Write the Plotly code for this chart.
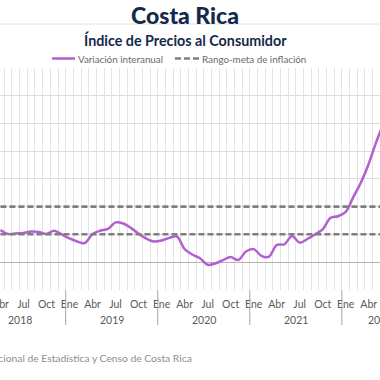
import plotly.graph_objects as go

# ---------------- data ----------------
years = [2018, 2019, 2020, 2021, 2022]
month_names = ["Ene", "Feb", "Mar", "Abr", "May", "Jun",
               "Jul", "Ago", "Sep", "Oct", "Nov", "Dic"]
label_months = ["Ene", "Abr", "Jul", "Oct"]
first_month = 3  # Abr 2018 (months counted from Ene 2018)
inflation = [
    2.31, 2.02, 2.06, 2.10, 2.20, 2.17, 2.02, 2.26, 1.99,                 # Abr-Dic 2018
    1.70, 1.48, 1.37, 2.02, 2.26, 2.39, 2.86, 2.78, 2.46, 2.05, 1.70, 1.48,  # 2019
    1.55, 1.74, 1.84, 0.94, 0.54, 0.27, -0.20, -0.11, 0.14, 0.36, 0.14, 0.76,  # 2020
    0.93, 0.45, 0.38, 1.23, 1.28, 1.88, 1.40, 1.66, 1.99, 2.35, 3.18, 3.30,  # 2021
    3.62, 4.70, 5.76, 7.09, 8.69, 10.10,                                  # Ene-Jun 2022
]
target_low = 2
target_high = 4
series_names = ["Variación interanual", "Rango-meta de inflación"]

# month index positions (category centres)
months = list(range(first_month, first_month + len(inflation)))
all_months = list(range(0, 12 * len(years)))
all_labels = [month_names[m % 12] for m in all_months]
tick_idx = [m for m in all_months if all_labels[m] in label_months]
tick_txt = [all_labels[m] for m in tick_idx]

# ---------------- layout helpers ----------------
W, H = 380, 380
PT, PB = 68, 290          # plot top / bottom in pixels
XR = [2.94, 52.47]        # visible month window
def py(ypx):
    return (PB - ypx) / (PB - PT)
def px(xpx):
    return xpx / W
def month_to_paper(m):
    return (m - XR[0]) / (XR[1] - XR[0])

NAVY = "#15294b"
PURPLE = "#b25fd2"
DASH = "#7f7f7f"
FONT = "Lato"
DASHSTYLE = "6px,3px"

fig = go.Figure()
fig.add_trace(go.Scatter(
    x=months, y=inflation, mode="lines", name=series_names[0],
    line=dict(color=PURPLE, width=2.5, shape="spline", smoothing=0.9),
))
for v in (target_high, target_low):
    fig.add_trace(go.Scatter(
        x=months, y=[v] * len(months), mode="lines", name=series_names[1],
        line=dict(color=DASH, width=2.6, dash=DASHSTYLE),
    ))

shapes = [dict(type="line", xref="paper", yref="paper", x0=0, x1=1,
               y0=py(24), y1=py(24), line=dict(color="#e2e2e2", width=1))]
annotations = [
    dict(text="Índice de Precios al Consumidor", xref="paper", yref="paper",
         x=px(185), y=py(39.5), xanchor="center", yanchor="middle", showarrow=False,
         font=dict(family=FONT, size=14.3, color=NAVY, weight="bold")),
    dict(text="Fuente: Instituto Nacional de Estadística y Censo de Costa Rica",
         xref="paper", yref="paper", x=px(194), y=py(358), xanchor="right",
         yanchor="middle", showarrow=False,
         font=dict(family=FONT, size=10.3, color="#8e8e8e")),
]

# legend (drawn as layout items)
legend_items = [(52, 75, PURPLE, "solid"), (175, 199, DASH, DASHSTYLE)]
for (x0, x1, col, dsh), name in zip(legend_items, series_names):
    shapes.append(dict(type="line", xref="paper", yref="paper",
                       x0=px(x0), x1=px(x1), y0=py(58.5), y1=py(58.5),
                       line=dict(color=col, width=2.5, dash=dsh)))
    annotations.append(dict(text=name, xref="paper", yref="paper",
                            x=px(x1 + 1), y=py(58.5), xanchor="left", yanchor="middle",
                            showarrow=False,
                            font=dict(family=FONT, size=9.8, color="#6a6a6a")))

for k, yr in enumerate(years):
    # full years centred on their 12 months; the last (partial) year on Ene-Oct
    centre = 12 * k + (5.5 if k < len(years) - 1 else 4.5)
    annotations.append(dict(text=str(yr), xref="paper", yref="paper",
                            x=month_to_paper(centre),
                            y=py(320), xanchor="center", yanchor="middle",
                            showarrow=False,
                            font=dict(family=FONT, size=10.5, color="#595959")))
    if k > 0:
        shapes.append(dict(type="line", xref="x", yref="paper",
                           x0=12 * k - 0.5, x1=12 * k - 0.5, y0=0, y1=py(325),
                           line=dict(color="#a6a6a6", width=1)))

fig.update_layout(
    width=W, height=H,
    margin=dict(l=0, r=0, t=PT, b=H - PB, autoexpand=False),
    paper_bgcolor="white", plot_bgcolor="white",
    font=dict(family=FONT),
    showlegend=False,
    hovermode=False,
    title=dict(text="Costa Rica", x=px(185), xanchor="center", xref="container",
               y=1 - 16 / H, yanchor="middle", yref="container",
               font=dict(family=FONT, size=23, color=NAVY, weight=900)),
    xaxis=dict(range=XR, tickmode="array", tickvals=tick_idx,
               ticktext=tick_txt, showgrid=False, zeroline=False,
               ticks="outside", ticklen=4, tickcolor="rgba(0,0,0,0)",
               ticklabeloverflow="allow",
               tickfont=dict(family=FONT, size=10.5, color="#595959"),
               minor=dict(tickmode="linear", tick0=0.5, dtick=1, showgrid=True,
                          gridcolor="#e4e4e4", gridwidth=1)),
    yaxis=dict(range=[-2.02, 14.0], dtick=2, showgrid=True, gridcolor="#dedede",
               zeroline=True, zerolinecolor="#b3b3b3", zerolinewidth=1,
               showticklabels=False),
    shapes=shapes, annotations=annotations,
)

fig.write_html("out.html", config={"displayModeBar": False, "staticPlot": True},
               post_script="document.body.style.margin='0';document.body.style.overflow='hidden';")
